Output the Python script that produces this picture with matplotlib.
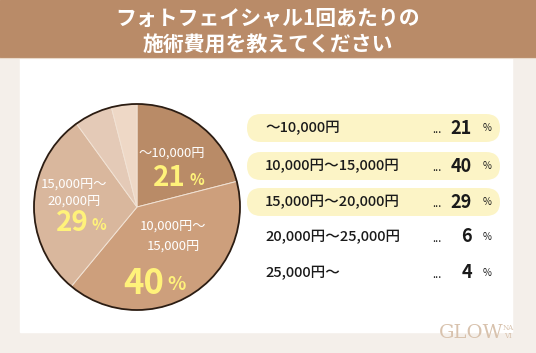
import matplotlib
matplotlib.use('Agg')
import matplotlib.pyplot as plt
from matplotlib.patches import Rectangle, FancyBboxPatch, Circle

plt.rcParams['font.family'] = ['Noto Sans CJK JP', 'DejaVu Sans']

title_lines = ['フォトフェイシャル1回あたりの', '施術費用を教えてください']
categories = ['〜10,000円', '10,000円〜15,000円', '15,000円〜20,000円',
              '20,000円〜25,000円', '25,000円〜']
shares = [21, 40, 29, 6, 4]
slice_labels = [['〜10,000円'], ['10,000円〜', '15,000円'], ['15,000円〜', '20,000円']]
highlighted = [True, True, True, False, False]

slice_colors = ['#b98b67', '#cd9f7c', '#d9b79d', '#e4cab7', '#eed8c6']
W, H = 536, 353

def Y(y):
    # top-based pixel rows -> axes coordinates
    return H - y

fig = plt.figure(figsize=(W / 100, H / 100), dpi=100)
fig.patch.set_facecolor('#f4efea')
ax = fig.add_axes([0, 0, 1, 1])
ax.axis('off')

# white panel and header band
ax.add_patch(Rectangle((20, Y(332)), 492, 275, color='white', zorder=0))
ax.add_patch(Rectangle((0, Y(57)), W, 57, color='#b98b68', zorder=1))
ax.plot([0, W], [Y(57.5), Y(57.5)], color='#e9d9ca', lw=0.8, zorder=1)
for i, line in enumerate(title_lines):
    ax.text(W / 2, Y(18 + i * 27), line, color='white', fontsize=15,
            fontweight='bold', ha='center', va='center', zorder=2)

# pie
cx, cy, r = 137, Y(207), 103
ax.pie(shares, colors=slice_colors, startangle=90, counterclock=False,
       center=(cx, cy), radius=r,
       wedgeprops=dict(edgecolor='#f1e2d4', linewidth=0.7))
ax.add_patch(Circle((cx, cy), r, fill=False, edgecolor='#2b1c12', lw=1.3, zorder=5))

yellow = '#fff27a'
label_x = [172, 173, 74]
label_y = [153, 226, 184]
label_gap = [0, 20, 17]
pct_pos = [(186, 178), (164, 283), (89, 223)]
pct_size = [20, 25, 20]
for lines, lx, ly, gap, (px, py), fs, v in zip(slice_labels, label_x, label_y,
                                               label_gap, pct_pos, pct_size, shares):
    for k, txt in enumerate(lines):
        ax.text(lx, Y(ly + k * gap), txt, color='white', fontsize=9.5,
                ha='center', va='center', zorder=6)
    ax.text(px, Y(py), str(v), color=yellow, fontsize=fs, fontweight='bold',
            ha='right', va='center', zorder=6)
    ax.text(px + 3, Y(py + 2), '%', color=yellow, fontsize=fs * 0.55,
            fontweight='bold', ha='left', va='center', zorder=6)

# legend list on the right
row_y = [128, 166, 202, 237, 273]
for cat, v, hl, ry in zip(categories, shares, highlighted, row_y):
    if hl:
        ax.add_patch(FancyBboxPatch((247, Y(ry + 14)), 253, 28,
                                    boxstyle='round,pad=0,rounding_size=14',
                                    facecolor='#fcf4c6', edgecolor='none', zorder=2))
    ax.text(265, Y(ry), cat, fontsize=10.5, fontweight='medium', color='#1a1a1a',
            ha='left', va='center', zorder=3)
    ax.text(437, Y(ry + 2), '...', fontsize=8, color='#1a1a1a', ha='center',
            va='center', zorder=3)
    ax.text(472, Y(ry), str(v), fontsize=13, fontweight='bold', color='#1a1a1a',
            ha='right', va='center', zorder=3)
    ax.text(487, Y(ry), '%', fontsize=7, color='#1a1a1a', ha='center',
            va='center', zorder=3)

# logo
ax.text(439, Y(333), 'GLOW', fontsize=14, family='DejaVu Serif', color='#d8c2ad',
        ha='left', va='center', zorder=3)
ax.text(508, Y(332), 'NA\nVI', fontsize=5, family='DejaVu Serif', color='#d8c2ad',
        ha='center', va='center', linespacing=1.1, zorder=3)

ax.set_xlim(0, W)
ax.set_ylim(0, H)
ax.set_aspect('auto')
ax.set_position([0, 0, 1, 1])

fig.savefig('out.png', dpi=100, facecolor=fig.get_facecolor())
